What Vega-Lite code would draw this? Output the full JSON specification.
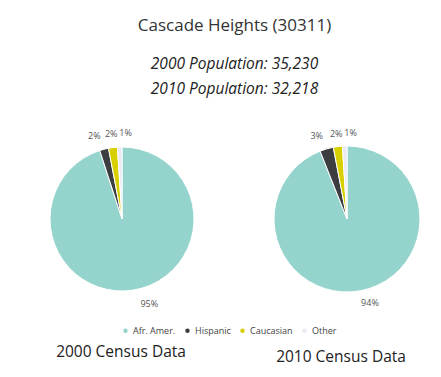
{
  "$schema": "https://vega.github.io/schema/vega-lite/v6.json",
  "padding": {"left": 32, "top": 16, "right": 0, "bottom": 5},
  "background": "white",
  "title": {
    "text": "Cascade Heights (30311)",
    "subtitle": ["2000 Population: 35,230", "2010 Population: 32,218"],
    "anchor": "middle",
    "font": "Open Sans",
    "fontSize": 17,
    "fontWeight": "normal",
    "color": "#333333",
    "subtitleFont": "Open Sans",
    "subtitleFontStyle": "italic",
    "subtitleFontSize": 15.5,
    "subtitleColor": "#222222",
    "subtitleLineHeight": 25,
    "subtitlePadding": 22,
    "offset": 21
  },
  "datasets": {
    "census": [
      {"year": "2000", "group": "Afr. Amer.", "share": 0.95, "idx": 1},
      {"year": "2000", "group": "Hispanic", "share": 0.02, "idx": 2},
      {"year": "2000", "group": "Caucasian", "share": 0.02, "idx": 3},
      {"year": "2000", "group": "Other", "share": 0.01, "idx": 4},
      {"year": "2010", "group": "Afr. Amer.", "share": 0.94, "idx": 1},
      {"year": "2010", "group": "Hispanic", "share": 0.03, "idx": 2},
      {"year": "2010", "group": "Caucasian", "share": 0.02, "idx": 3},
      {"year": "2010", "group": "Other", "share": 0.01, "idx": 4}
    ]
  },
  "data": {"name": "census"},
  "spacing": 45,
  "resolve": {"scale": {"color": "shared", "theta": "independent"}},
  "hconcat": [
    {
      "width": 180,
      "height": 200,
      "transform": [{"filter": "datum.year === '2000'"}],
      "title": {"text": "2000 Census Data", "orient": "bottom", "offset": 26, "dx": -1, "font": "Open Sans", "fontSize": 15.5, "fontWeight": "normal", "color": "#222222"},
      "encoding": {
        "theta": {"field": "share", "type": "quantitative", "stack": true},
        "order": {"field": "idx", "type": "quantitative"}
      },
      "layer": [
        {
          "mark": {"type": "arc", "outerRadius": 72, "stroke": "white", "strokeWidth": 1},
          "encoding": {
            "color": {
              "field": "group", "type": "nominal",
              "scale": {"domain": ["Afr. Amer.", "Hispanic", "Caucasian", "Other"], "range": ["#95d4cc", "#3b3d40", "#d8cf00", "#ebe8f3"]},
              "legend": {"orient": "none", "legendX": 89, "legendY": 207, "direction": "horizontal", "title": null}
            }
          }
        },
        {
          "mark": {"type": "text", "radius": 86, "align": "left", "dx": 5, "font": "Open Sans", "fontSize": 9, "color": "#555555"},
          "encoding": {"text": {"condition": {"test": "datum.group === 'Afr. Amer.'", "field": "share", "type": "quantitative", "format": ".0%"}, "value": ""}}
        },
        {
          "mark": {"type": "text", "radius": 86, "align": "left", "font": "Open Sans", "fontSize": 9, "color": "#555555"},
          "encoding": {"text": {"condition": {"test": "datum.group === 'Other'", "field": "share", "type": "quantitative", "format": ".0%"}, "value": ""}}
        },
        {
          "mark": {"type": "text", "radius": 86, "align": "right", "font": "Open Sans", "fontSize": 9, "color": "#555555"},
          "encoding": {"text": {"condition": {"test": "datum.group === 'Hispanic'", "field": "share", "type": "quantitative", "format": ".0%"}, "value": ""}}
        },
        {
          "mark": {"type": "text", "radius": 86, "align": "center", "font": "Open Sans", "fontSize": 9, "color": "#555555"},
          "encoding": {"text": {"condition": {"test": "datum.group === 'Caucasian'", "field": "share", "type": "quantitative", "format": ".0%"}, "value": ""}}
        }
      ]
    },
    {
      "width": 180,
      "height": 200,
      "transform": [{"filter": "datum.year === '2010'"}],
      "title": {"text": "2010 Census Data", "orient": "bottom", "offset": 31, "dx": -6, "font": "Open Sans", "fontSize": 15.5, "fontWeight": "normal", "color": "#222222"},
      "encoding": {
        "theta": {"field": "share", "type": "quantitative", "stack": true},
        "order": {"field": "idx", "type": "quantitative"}
      },
      "layer": [
        {
          "mark": {"type": "arc", "outerRadius": 73, "stroke": "white", "strokeWidth": 1},
          "encoding": {
            "color": {
              "field": "group", "type": "nominal",
              "scale": {"domain": ["Afr. Amer.", "Hispanic", "Caucasian", "Other"], "range": ["#95d4cc", "#3b3d40", "#d8cf00", "#ebe8f3"]},
              "legend": {"orient": "none", "legendX": 89, "legendY": 207, "direction": "horizontal", "title": null}
            }
          }
        },
        {
          "mark": {"type": "text", "radius": 86, "align": "left", "dx": -2, "font": "Open Sans", "fontSize": 9, "color": "#555555"},
          "encoding": {"text": {"condition": {"test": "datum.group === 'Afr. Amer.'", "field": "share", "type": "quantitative", "format": ".0%"}, "value": ""}}
        },
        {
          "mark": {"type": "text", "radius": 86, "align": "left", "font": "Open Sans", "fontSize": 9, "color": "#555555"},
          "encoding": {"text": {"condition": {"test": "datum.group === 'Other'", "field": "share", "type": "quantitative", "format": ".0%"}, "value": ""}}
        },
        {
          "mark": {"type": "text", "radius": 86, "align": "right", "font": "Open Sans", "fontSize": 9, "color": "#555555"},
          "encoding": {"text": {"condition": {"test": "datum.group === 'Hispanic'", "field": "share", "type": "quantitative", "format": ".0%"}, "value": ""}}
        },
        {
          "mark": {"type": "text", "radius": 86, "align": "center", "font": "Open Sans", "fontSize": 9, "color": "#555555"},
          "encoding": {"text": {"condition": {"test": "datum.group === 'Caucasian'", "field": "share", "type": "quantitative", "format": ".0%"}, "value": ""}}
        }
      ]
    }
  ],
  "config": {
    "view": {"stroke": null},
    "legend": {"symbolType": "circle", "symbolSize": 20, "symbolStrokeWidth": 0, "labelFont": "Open Sans", "labelFontSize": 9, "labelColor": "#444444", "labelOffset": 3, "columnPadding": 7}
  }
}
